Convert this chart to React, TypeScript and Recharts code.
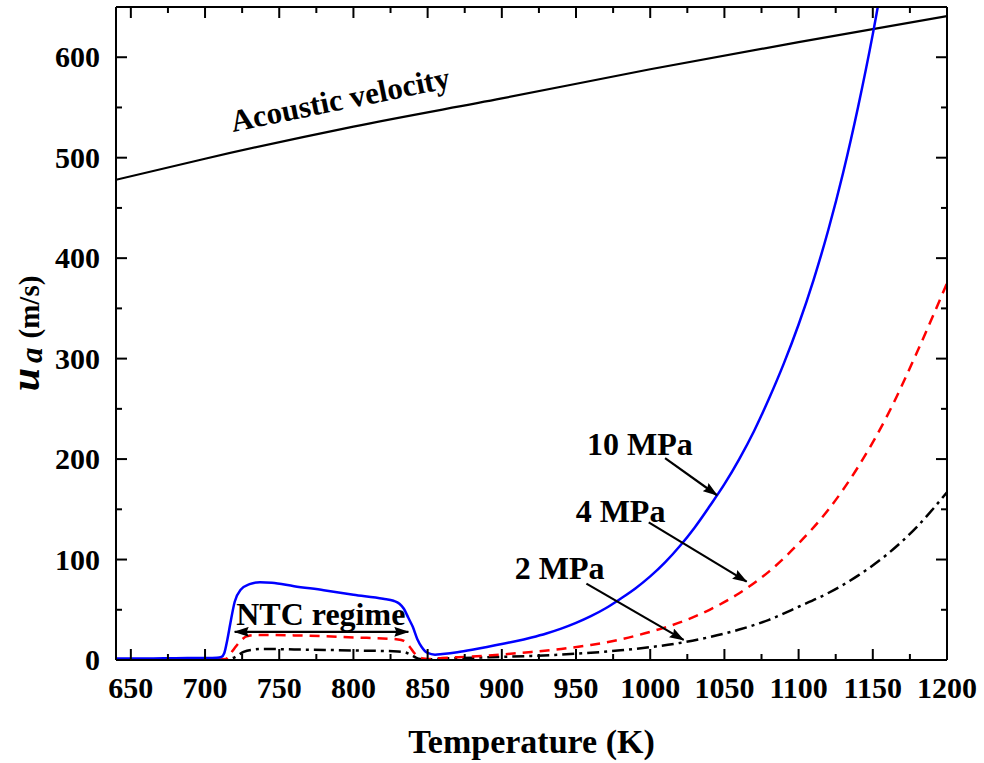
import React from 'react';
import { LineChart, Line, XAxis, YAxis, ReferenceLine, ReferenceDot } from 'recharts';

const FONT = '"Liberation Serif", "Times New Roman", Times, serif';

// ---- tick values ----
const xTicks = [650, 675, 700, 725, 750, 775, 800, 825, 850, 875, 900, 925, 950, 975, 1000, 1025, 1050, 1075, 1100, 1125, 1150, 1175, 1200];
const yTicks = [0, 50, 100, 150, 200, 250, 300, 350, 400, 450, 500, 550, 600];

// ---- acoustic velocity ----
const acousticT = [640, 700, 800, 900, 1000, 1100, 1200];
const acousticU = [478, 499, 531, 559, 588, 615, 641];

// ---- 10 MPa ----
const t10 = [640, 660, 680, 700, 708, 711, 713, 715, 717, 720, 724, 730, 737, 745, 760, 780, 800, 820, 827, 831, 834, 837, 840, 843, 846, 850, 855, 860, 870, 880, 890, 900, 910, 920, 930, 940, 950, 960, 970, 980, 990, 1000, 1010, 1020, 1030, 1040, 1050, 1060, 1070, 1080, 1090, 1100, 1110, 1120, 1130, 1140, 1150, 1160];
const u10 = [1.5, 1.5, 1.8, 2, 2.3, 3, 7, 20, 36, 58, 70, 75.5, 77.5, 77, 73.5, 69.5, 65, 61, 59, 56, 51, 42, 33, 21, 13, 7, 5.3, 6, 7.8, 10.2, 12.9, 16, 18.9, 22.4, 26.4, 31.2, 36.9, 43.6, 51.5, 61, 71.2, 83.2, 97.2, 113.5, 132, 153, 175, 200, 228, 260, 295, 334, 378, 428, 485, 550, 623, 706];

// ---- 4 MPa ----
const t4 = [640, 680, 710, 714, 717, 720, 724, 728, 735, 760, 800, 830, 834, 838, 841, 844, 847, 850, 860, 880, 900, 920, 940, 960, 980, 1000, 1020, 1040, 1060, 1080, 1100, 1120, 1140, 1160, 1180, 1200];
const u4 = [0.5, 0.5, 0.6, 1, 6, 12, 19, 23.5, 25, 24.5, 22.5, 20.5, 19, 13, 7, 3, 1.5, 1, 2, 3.5, 5.5, 8, 11, 15, 20.5, 28, 37.4, 50, 66.5, 88, 116, 149.5, 192, 244, 307, 375];

// ---- 2 MPa ----
const t2 = [640, 680, 712, 716, 719, 722, 726, 731, 740, 760, 800, 830, 835, 839, 842, 845, 850, 860, 880, 900, 920, 940, 960, 980, 1000, 1020, 1040, 1060, 1080, 1100, 1120, 1140, 1160, 1180, 1200];
const u2 = [0.3, 0.3, 0.3, 0.6, 2, 4.5, 8, 10, 11, 10.5, 9.5, 8.5, 7.5, 5, 2.5, 1, 0.6, 1.4, 2.3, 3.1, 4.1, 5.4, 7.2, 9.6, 12.8, 17, 22.8, 30.3, 40, 53, 66.7, 84, 105.6, 133, 167];

const zip = (ts: number[], us: number[]) => ts.map((t, i) => ({ t, u: us[i] }));
const acousticData = zip(acousticT, acousticU);
const data10 = zip(t10, u10);
const data4 = zip(t4, u4);
const data2 = zip(t2, u2);

// ---- annotations (in data coordinates) ----
const textNotes = [
  { text: 'Acoustic velocity', t: 791, u: 558, rot: -11.5, size: 31 },
  { text: '10 MPa', t: 993, u: 215, rot: 0, size: 32 },
  { text: '4 MPa', t: 980, u: 148, rot: 0, size: 32 },
  { text: '2 MPa', t: 939, u: 92, rot: 0, size: 32 },
  { text: 'NTC regime', t: 778, u: 46, rot: 0, size: 32 },
];
const arrows = [
  { from: { t: 1010, u: 201 }, to: { t: 1045, u: 164 }, both: false },
  { from: { t: 999, u: 137 }, to: { t: 1065, u: 78 }, both: false },
  { from: { t: 957, u: 76 }, to: { t: 1022.5, u: 20 }, both: false },
  { from: { t: 720, u: 28 }, to: { t: 837, u: 28 }, both: true },
];

const MAJ = 11;
const MIN = 6;

const BottomTick = (p: any) => {
  const { x, y, payload } = p;
  const v = payload.value;
  const major = v % 50 === 0;
  return (
    <g>
      <line x1={x} x2={x} y1={y} y2={y - (major ? MAJ : MIN)} stroke="#000" strokeWidth={2} />
      {major ? (
        <text x={x} y={y + 38} textAnchor="middle" fontFamily={FONT} fontWeight="bold" fontSize={30} fill="#000">
          {v}
        </text>
      ) : null}
    </g>
  );
};

const TopTick = (p: any) => {
  const { x, y, payload } = p;
  const major = payload.value % 50 === 0;
  return <line x1={x} x2={x} y1={y} y2={y + (major ? MAJ : MIN)} stroke="#000" strokeWidth={2} />;
};

const LeftTick = (p: any) => {
  const { x, y, payload } = p;
  const v = payload.value;
  const major = v % 100 === 0;
  return (
    <g>
      <line x1={x} x2={x + (major ? MAJ : MIN)} y1={y} y2={y} stroke="#000" strokeWidth={2} />
      {major ? (
        <text x={x - 16} y={y + 10} textAnchor="end" fontFamily={FONT} fontWeight="bold" fontSize={30} fill="#000">
          {v}
        </text>
      ) : null}
    </g>
  );
};

const RightTick = (p: any) => {
  const { x, y, payload } = p;
  const major = payload.value % 100 === 0;
  return <line x1={x} x2={x - (major ? MAJ : MIN)} y1={y} y2={y} stroke="#000" strokeWidth={2} />;
};

const XTitle = (p: any) => {
  const vb = p.viewBox || { x: 116, y: 660, width: 831, height: 1 };
  const cx = vb.x + vb.width / 2;
  return (
    <text x={cx} y={vb.y + 93} textAnchor="middle" fontFamily={FONT} fontWeight="bold" fontSize={34} fill="#000">
      Temperature (K)
    </text>
  );
};

const YTitle = (p: any) => {
  const vb = p.viewBox || { x: 115, y: 7, width: 1, height: 653 };
  const cx = vb.x + vb.width - 77;
  const cy = vb.y + vb.height / 2;
  return (
    <text x={cx} y={cy} textAnchor="middle" fontFamily={FONT} fill="#000" transform={`rotate(-90, ${cx}, ${cy})`}>
      <tspan fontStyle="italic" fontWeight="bold" fontSize={42}>u</tspan>
      <tspan fontStyle="italic" fontWeight="bold" fontSize={31} dx={5} dy={3}>a</tspan>
      <tspan fontWeight="bold" fontSize={29} dx={9} dy={-3}>(m/s)</tspan>
    </text>
  );
};

export default function App() {
  return (
    <div style={{ position: 'absolute', left: 0, top: 0, width: 984, height: 763, background: '#fff' }}>
      <svg width={0} height={0} style={{ position: 'absolute' }}>
        <defs>
          <marker id="arrowHead" viewBox="0 0 15 10" markerUnits="userSpaceOnUse" markerWidth={15} markerHeight={10} refX={14} refY={5} orient="auto-start-reverse">
            <path d="M0,0 L15,5 L0,10 L2,5 z" fill="#000" />
          </marker>
        </defs>
      </svg>
      <LineChart width={984} height={763} margin={{ top: 6, right: 36, bottom: 102, left: 115 }}>
        <XAxis
          dataKey="t"
          type="number"
          domain={[640, 1200]}
          ticks={xTicks}
          interval={0}
          allowDataOverflow
          height={1}
          tickSize={0}
          tickMargin={0}
          tickLine={false}
          tick={BottomTick}
          axisLine={{ stroke: '#000', strokeWidth: 2 }}
          label={{ content: XTitle }}
        />
        <XAxis
          xAxisId="top"
          orientation="top"
          dataKey="t"
          type="number"
          domain={[640, 1200]}
          ticks={xTicks}
          interval={0}
          allowDataOverflow
          height={1}
          tickSize={0}
          tickMargin={0}
          tickLine={false}
          tick={TopTick}
          axisLine={{ stroke: '#000', strokeWidth: 2 }}
        />
        <YAxis
          type="number"
          domain={[0, 650]}
          ticks={yTicks}
          interval={0}
          allowDataOverflow
          width={1}
          tickSize={0}
          tickMargin={0}
          tickLine={false}
          tick={LeftTick}
          axisLine={{ stroke: '#000', strokeWidth: 2 }}
          label={{ content: YTitle }}
        />
        <YAxis
          yAxisId="right"
          orientation="right"
          type="number"
          domain={[0, 650]}
          ticks={yTicks}
          interval={0}
          allowDataOverflow
          width={1}
          tickSize={0}
          tickMargin={0}
          tickLine={false}
          tick={RightTick}
          axisLine={{ stroke: '#000', strokeWidth: 2 }}
        />
        <Line data={acousticData} dataKey="u" type="monotone" stroke="#000" strokeWidth={2.2} dot={false} activeDot={false} isAnimationActive={false} />
        <Line data={data2} dataKey="u" type="monotone" stroke="#000" strokeWidth={2.5} strokeDasharray="12 5 3 5" dot={false} activeDot={false} isAnimationActive={false} />
        <Line data={data4} dataKey="u" type="monotone" stroke="#ff0000" strokeWidth={2.5} strokeDasharray="10 7" dot={false} activeDot={false} isAnimationActive={false} />
        <Line data={data10} dataKey="u" type="monotone" stroke="#0000ff" strokeWidth={2.5} dot={false} activeDot={false} isAnimationActive={false} />
        {arrows.map((a, i) => (
          <ReferenceLine
            key={'ar' + i}
            segment={[{ x: a.from.t, y: a.from.u }, { x: a.to.t, y: a.to.u }]}
            ifOverflow="visible"
            shape={(p: any) => (
              <line
                x1={p.x1}
                y1={p.y1}
                x2={p.x2}
                y2={p.y2}
                stroke="#000"
                strokeWidth={2.2}
                markerEnd="url(#arrowHead)"
                markerStart={a.both ? 'url(#arrowHead)' : undefined}
              />
            )}
          />
        ))}
        {textNotes.map((n, i) => (
          <ReferenceDot
            key={'tx' + i}
            x={n.t}
            y={n.u}
            r={1}
            ifOverflow="visible"
            shape={(p: any) => (
              <text
                x={p.cx}
                y={p.cy}
                textAnchor="middle"
                dominantBaseline="central"
                fontFamily={FONT}
                fontWeight="bold"
                fontSize={n.size}
                fill="#000"
                transform={n.rot ? `rotate(${n.rot}, ${p.cx}, ${p.cy})` : undefined}
              >
                {n.text}
              </text>
            )}
          />
        ))}
      </LineChart>
    </div>
  );
}
